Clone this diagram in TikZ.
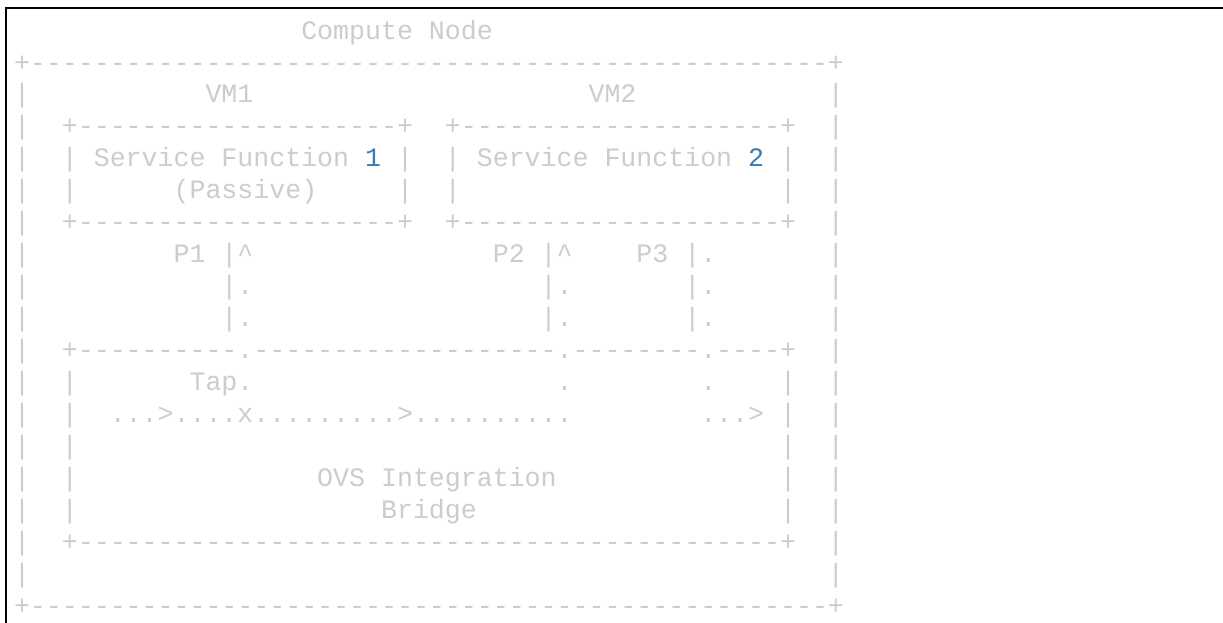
\documentclass[tikz,border=0pt]{standalone}
\usepackage{fontspec}
\setmonofont{Liberation Mono}
\definecolor{fg}{HTML}{CCCCCC}
\definecolor{numblue}{HTML}{3A78B2}
\frenchspacing
\tikzset{
  txt/.style={anchor=base west, inner sep=0pt, outer sep=0pt, text=fg,
    font=\ttfamily\fontsize{26.6pt}{32pt}\selectfont},
  frame/.style={line width=2pt, draw=black}
}
\newcommand\T[3]{\node[txt] (t#1-#2) at ({14+#2*15.96},{103+(#1-2)*31.94}) {#3};}
\newcommand\Bar[2]{\T{#1}{#2}{|}}
\begin{document}
\begin{tikzpicture}[x=1pt,y=-1pt]
\useasboundingbox (0,0) rectangle (1223,623);
\fill[white] (0,0) rectangle (1223,623);
% frame of the code block
\coordinate (fTL) at (6,8);
\coordinate (fTR) at (1223,8);
\coordinate (fBL) at (6,623);
\draw[frame] (fTR) -- (fTL) -- (fBL);
% row 0
\T{0}{18}{Compute Node}
% row 1
\T{1}{0}{+--------------------------------------------------+}
% row 2
\Bar{2}{0}\T{2}{12}{VM1}\T{2}{36}{VM2}\Bar{2}{51}
% row 3
\Bar{3}{0}\T{3}{3}{+--------------------+}\T{3}{27}{+--------------------+}\Bar{3}{51}
% row 4
\Bar{4}{0}\Bar{4}{3}\T{4}{5}{Service Function {\color{numblue}1}}\Bar{4}{24}
\Bar{4}{27}\T{4}{29}{Service Function {\color{numblue}2}}\Bar{4}{48}\Bar{4}{51}
% row 5
\Bar{5}{0}\Bar{5}{3}\T{5}{10}{(Passive)}\Bar{5}{24}\Bar{5}{27}\Bar{5}{48}\Bar{5}{51}
% row 6
\Bar{6}{0}\T{6}{3}{+--------------------+}\T{6}{27}{+--------------------+}\Bar{6}{51}
% row 7
\Bar{7}{0}\T{7}{10}{P1 |\textasciicircum}\T{7}{30}{P2 |\textasciicircum}\T{7}{39}{P3 |.}\Bar{7}{51}
% rows 8-9
\Bar{8}{0}\T{8}{13}{|.}\T{8}{33}{|.}\T{8}{42}{|.}\Bar{8}{51}
\Bar{9}{0}\T{9}{13}{|.}\T{9}{33}{|.}\T{9}{42}{|.}\Bar{9}{51}
% row 10
\Bar{10}{0}\T{10}{3}{+----------.-------------------.--------.----+}\Bar{10}{51}
% row 11
\Bar{11}{0}\Bar{11}{3}\T{11}{11}{Tap.}\T{11}{34}{.}\T{11}{43}{.}\Bar{11}{48}\Bar{11}{51}
% row 12
\Bar{12}{0}\Bar{12}{3}\T{12}{6}{...>....x.........>..........}\T{12}{43}{...>}\Bar{12}{48}\Bar{12}{51}
% row 13
\Bar{13}{0}\Bar{13}{3}\Bar{13}{48}\Bar{13}{51}
% row 14
\Bar{14}{0}\Bar{14}{3}\T{14}{19}{OVS Integration}\Bar{14}{48}\Bar{14}{51}
% row 15
\Bar{15}{0}\Bar{15}{3}\T{15}{23}{Bridge}\Bar{15}{48}\Bar{15}{51}
% row 16
\Bar{16}{0}\T{16}{3}{+--------------------------------------------+}\Bar{16}{51}
% row 17
\Bar{17}{0}\Bar{17}{51}
% row 18
\T{18}{0}{+--------------------------------------------------+}
\end{tikzpicture}
\end{document}
